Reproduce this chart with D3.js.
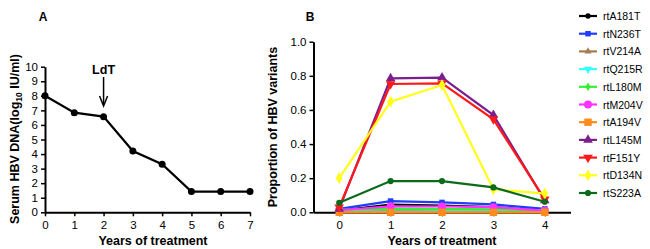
<!DOCTYPE html>
<html>
<head>
<meta charset="utf-8">
<script src="https://cdn.jsdelivr.net/npm/d3@7"></script>
<style>
body { margin: 0; background: #fff; }
svg { font-family: "Liberation Sans", Arial, sans-serif; }
</style>
</head>
<body>
<div id="chart"></div>
<script>
// panel A data
var yearsA = [0, 1, 2, 3, 4, 5, 6, 7];
var dnaA = [8.0, 6.84, 6.57, 4.21, 3.3, 1.42, 1.42, 1.42];
var ticksA = [0, 1, 2, 3, 4, 5, 6, 7, 8, 9, 10];

// panel B data
var yearsB = [0, 1, 2, 3, 4];
var variantNames = ['rtA181T', 'rtN236T', 'rtV214A', 'rtQ215R', 'rtL180M', 'rtM204V',
  'rtA194V', 'rtL145M', 'rtF151Y', 'rtD134N', 'rtS223A'];
var rtA181T = [0.01, 0.045, 0.04, 0.03, 0.01];
var rtN236T = [0.02, 0.066, 0.058, 0.046, 0.02];
var rtV214A = [0.01, 0.012, 0.012, 0.01, 0.008];
var rtQ215R = [0.012, 0.018, 0.016, 0.015, 0.01];
var rtL180M = [0.015, 0.022, 0.02, 0.018, 0.012];
var rtM204V = [0.012, 0.035, 0.034, 0.03, 0.01];
var rtA194V = [0, 0, 0, 0, 0];
var rtL145M = [0.02, 0.785, 0.79, 0.57, 0.07];
var rtF151Y = [0.03, 0.752, 0.756, 0.545, 0.076];
var rtD134N = [0.2, 0.648, 0.746, 0.135, 0.11];
var rtS223A = [0.056, 0.183, 0.183, 0.146, 0.062];
var ticksB = [0, 0.2, 0.4, 0.6, 0.8, 1.0];

var colors = ['#000000', '#1f3cff', '#a87c50', '#33ffff', '#33ee33', '#ff33ff',
  '#ff8c1a', '#7b1f8f', '#ff1a1a', '#ffff1a', '#0b6b1a'];
var shapes = ['circle', 'square', 'triangle', 'tridown', 'diamond', 'circle',
  'square', 'triangle', 'tridown', 'diamond', 'circle'];
var sizes = [22, 30, 22, 30, 22, 50, 55, 40, 40, 40, 30];
var seriesB = [rtA181T, rtN236T, rtV214A, rtQ215R, rtL180M, rtM204V, rtA194V,
  rtL145M, rtF151Y, rtD134N, rtS223A];

var svg = d3.select("#chart").append("svg")
  .attr("width", 650)
  .attr("height", 249);

// ---------- panel A ----------
var xA = d3.scaleLinear().domain([0, 7]).range([45, 250]);
var yA = d3.scaleLinear().domain([0, 10]).range([212.3, 66.7]);

var axA = svg.append("g")
  .attr("transform", "translate(0," + yA(0) + ")")
  .call(d3.axisBottom(xA).tickValues(yearsA).tickFormat(d3.format("d")).tickSize(4).tickSizeOuter(0));
var ayA = svg.append("g")
  .attr("transform", "translate(" + xA(0) + ",0)")
  .call(d3.axisLeft(yA).tickValues(ticksA).tickFormat(d3.format("d")).tickSize(4).tickSizeOuter(0));
[axA, ayA].forEach(function(g) {
  g.select(".domain").attr("stroke-width", 2);
  g.selectAll(".tick line").attr("stroke-width", 1.5);
  g.selectAll("text").attr("font-size", 11.5).attr("font-family", "Liberation Sans, Arial");
});
axA.selectAll("text").attr("dy", "0.85em");

var lineA = d3.line()
  .x(function(d, i) { return xA(yearsA[i]); })
  .y(function(d) { return yA(d); });
svg.append("path")
  .datum(dnaA)
  .attr("d", lineA)
  .attr("fill", "none")
  .attr("stroke", "#000")
  .attr("stroke-width", 2.2);
svg.selectAll(".ptA")
  .data(dnaA)
  .enter()
  .append("circle")
  .attr("class", "ptA")
  .attr("cx", function(d, i) { return xA(yearsA[i]); })
  .attr("cy", function(d) { return yA(d); })
  .attr("r", 3.5);

// LdT arrow
svg.append("text")
  .attr("x", xA(2))
  .attr("y", 74)
  .attr("text-anchor", "middle")
  .attr("font-weight", "bold")
  .attr("font-size", 12.5)
  .text("LdT");
svg.append("line")
  .attr("x1", xA(2)).attr("x2", xA(2))
  .attr("y1", 77).attr("y2", 104)
  .attr("stroke", "#000").attr("stroke-width", 1.5);
svg.append("path")
  .attr("d", "M" + (xA(2) - 4) + ",96 L" + xA(2) + ",106 L" + (xA(2) + 4) + ",96")
  .attr("fill", "none").attr("stroke", "#000").attr("stroke-width", 1.5);

svg.append("text")
  .attr("x", 43).attr("y", 21)
  .attr("text-anchor", "middle")
  .attr("font-weight", "bold").attr("font-size", 12)
  .text("A");

var ytA = svg.append("text")
  .attr("transform", "translate(19,139) rotate(-90)")
  .attr("text-anchor", "middle")
  .attr("font-weight", "bold").attr("font-size", 12.5);
ytA.append("tspan").text("Serum HBV DNA(log");
ytA.append("tspan").attr("font-size", 8.5).attr("dy", 3).text("10");
ytA.append("tspan").attr("dy", -3).text(" IU/ml)");

svg.append("text")
  .attr("x", 153).attr("y", 245)
  .attr("text-anchor", "middle")
  .attr("font-weight", "bold").attr("font-size", 12.5)
  .text("Years of treatment");

// ---------- panel B ----------
var xB = d3.scaleLinear().domain([-0.5, 4.5]).range([313.5, 570.5]);
var yB = d3.scaleLinear().domain([0, 1]).range([212.3, 41.7]);

var axB = svg.append("g")
  .attr("transform", "translate(0," + yB(0) + ")")
  .call(d3.axisBottom(xB).tickValues(yearsB).tickFormat(d3.format("d")).tickSize(4).tickSizeOuter(0));
var ayB = svg.append("g")
  .attr("transform", "translate(" + xB(-0.5) + ",0)")
  .call(d3.axisLeft(yB).tickValues(ticksB).tickFormat(d3.format(".1f")).tickSize(4).tickSizeOuter(0));
[axB, ayB].forEach(function(g) {
  g.select(".domain").attr("stroke-width", 2);
  g.selectAll(".tick line").attr("stroke-width", 1.5);
  g.selectAll("text").attr("font-size", 11.5).attr("font-family", "Liberation Sans, Arial");
});
axB.selectAll("text").attr("dy", "0.85em");

function symbolPath(shape, size) {
  var type = d3.symbolCircle;
  var rot = 0;
  if (shape === 'square') type = d3.symbolSquare;
  if (shape === 'triangle') type = d3.symbolTriangle;
  if (shape === 'tridown') { type = d3.symbolTriangle; rot = 180; }
  if (shape === 'diamond') type = d3.symbolDiamond;
  return { d: d3.symbol().type(type).size(size)(), rot: rot };
}

var lineB = d3.line()
  .x(function(d, i) { return xB(yearsB[i]); })
  .y(function(d) { return yB(d); });

seriesB.forEach(function(vals, k) {
  var g = svg.append("g");
  g.append("path")
    .datum(vals)
    .attr("d", lineB)
    .attr("fill", "none")
    .attr("stroke", colors[k])
    .attr("stroke-width", 2.2);
  var sp = symbolPath(shapes[k], sizes[k]);
  g.selectAll(".pt")
    .data(vals)
    .enter()
    .append("path")
    .attr("d", sp.d)
    .attr("fill", colors[k])
    .attr("transform", function(d, i) {
      return "translate(" + xB(yearsB[i]) + "," + yB(d) + ") rotate(" + sp.rot + ")";
    });
});

svg.append("text")
  .attr("x", 310).attr("y", 21)
  .attr("text-anchor", "middle")
  .attr("font-weight", "bold").attr("font-size", 12)
  .text("B");

svg.append("text")
  .attr("transform", "translate(277,127) rotate(-90)")
  .attr("text-anchor", "middle")
  .attr("font-weight", "bold").attr("font-size", 12.5)
  .text("Proportion of HBV variants");

svg.append("text")
  .attr("x", 442).attr("y", 245)
  .attr("text-anchor", "middle")
  .attr("font-weight", "bold").attr("font-size", 12.5)
  .text("Years of treatment");

// legend
var legend = svg.append("g");
variantNames.forEach(function(name, k) {
  var ly = 16 + k * 17.7;
  legend.append("line")
    .attr("x1", 579).attr("x2", 597)
    .attr("y1", ly).attr("y2", ly)
    .attr("stroke", colors[k]).attr("stroke-width", 2.2);
  var sp = symbolPath(shapes[k], sizes[k]);
  legend.append("path")
    .attr("d", sp.d)
    .attr("fill", colors[k])
    .attr("transform", "translate(588," + ly + ") rotate(" + sp.rot + ")");
  legend.append("text")
    .attr("x", 603).attr("y", ly + 4)
    .attr("font-size", 10.5)
    .text(name);
});
</script>
</body>
</html>
